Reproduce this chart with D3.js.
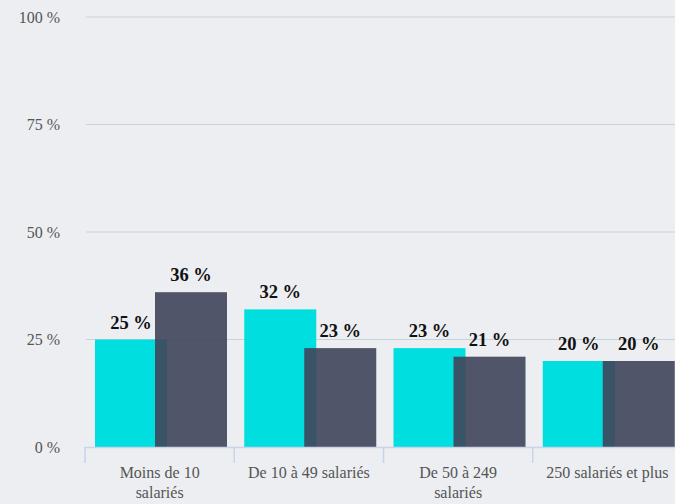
<!DOCTYPE html>
<html>
<head>
<meta charset="utf-8">
<script src="https://cdn.jsdelivr.net/npm/d3@7"></script>
<style>
  body { margin: 0; background: #eceef1; }
  svg { display: block; }
  svg text { font-family: "Liberation Serif", "Times New Roman", Times, serif; }
</style>
</head>
<body>
<svg id="chart" width="675" height="504"></svg>
<script>
// categories (each label split in lines as shown)
const categories = ["Moins de 10 salariés", "De 10 à 49 salariés", "De 50 à 249 salariés", "250 salariés et plus"];
const categoryLines = [["Moins de 10", "salariés"], ["De 10 à 49 salariés"], ["De 50 à 249", "salariés"], ["250 salariés et plus"]];
const seriesNames = ["a", "b"];
const seriesA = [25, 32, 23, 20];
const seriesB = [36, 23, 21, 20];
const yTicks = [0, 25, 50, 75, 100];

const colors = { a: "#00dee0", b: "#3f445a" };

let svg = d3.select("#chart");

let xScale = d3.scaleBand()
  .domain(categories)
  .range([85, 682])
  .padding(0);

// offset of each series inside a band
let subScale = d3.scalePoint()
  .domain(seriesNames)
  .range([10, 70]);

const barWidth = 72;

let yScale = d3.scaleLinear()
  .domain([0, 100])
  .range([447, 17]);

// gridlines
svg.append("g")
  .selectAll("line")
  .data(yTicks.filter(d => d > 0))
  .join("line")
  .attr("x1", 86)
  .attr("x2", 675)
  .attr("y1", d => yScale(d))
  .attr("y2", d => yScale(d))
  .attr("stroke", "#c6d3d9")
  .attr("stroke-width", 1.2);

// y labels
svg.append("g")
  .selectAll("text")
  .data(yTicks)
  .join("text")
  .attr("x", 60)
  .attr("y", d => yScale(d))
  .attr("dy", "0.35em")
  .attr("text-anchor", "end")
  .attr("font-size", 16)
  .attr("fill", "#555")
  .text(d => d + " %");

let data = categories.map((c, i) => ({ cat: c, a: seriesA[i], b: seriesB[i] }));

let groups = svg.append("g")
  .selectAll("g")
  .data(data)
  .join("g")
  .attr("transform", d => `translate(${xScale(d.cat)},0)`);

groups.selectAll("rect")
  .data(d => seriesNames.map(s => ({ key: s, value: d[s] })))
  .join("rect")
  .attr("x", d => subScale(d.key))
  .attr("y", d => yScale(d.value))
  .attr("width", barWidth)
  .attr("height", d => yScale(0) - yScale(d.value))
  .attr("fill", d => colors[d.key])
  .attr("fill-opacity", d => d.key === "b" ? 0.9 : 1);

groups.selectAll("text.val")
  .data(d => seriesNames.map(s => ({ key: s, value: d[s] })))
  .join("text")
  .attr("class", "val")
  .attr("x", d => subScale(d.key) + barWidth / 2)
  .attr("y", d => yScale(d.value) - 11)
  .attr("text-anchor", "middle")
  .attr("font-weight", "bold")
  .attr("font-size", 18.5)
  .attr("fill", "#111")
  .text(d => d.value + " %");

// x axis
svg.append("line")
  .attr("x1", 85)
  .attr("x2", 675)
  .attr("y1", yScale(0) + 0.5)
  .attr("y2", yScale(0) + 0.5)
  .attr("stroke", "#c9d3ea")
  .attr("stroke-width", 1.5);

svg.append("g")
  .selectAll("line")
  .data(categories)
  .join("line")
  .attr("x1", d => xScale(d))
  .attr("x2", d => xScale(d))
  .attr("y1", yScale(0))
  .attr("y2", yScale(0) + 16)
  .attr("stroke", "#c9d3ea")
  .attr("stroke-width", 1.5);

svg.append("g")
  .selectAll("text")
  .data(categories)
  .join("text")
  .attr("x", d => xScale(d) + xScale.bandwidth() / 2)
  .attr("y", 478)
  .attr("text-anchor", "middle")
  .attr("font-size", 16)
  .attr("fill", "#555")
  .each(function (d, i) {
    d3.select(this).selectAll("tspan")
      .data(categoryLines[i])
      .join("tspan")
      .attr("x", xScale(d) + xScale.bandwidth() / 2)
      .attr("dy", (l, j) => j === 0 ? 0 : 20)
      .text(l => l);
  });
</script>
</body>
</html>
